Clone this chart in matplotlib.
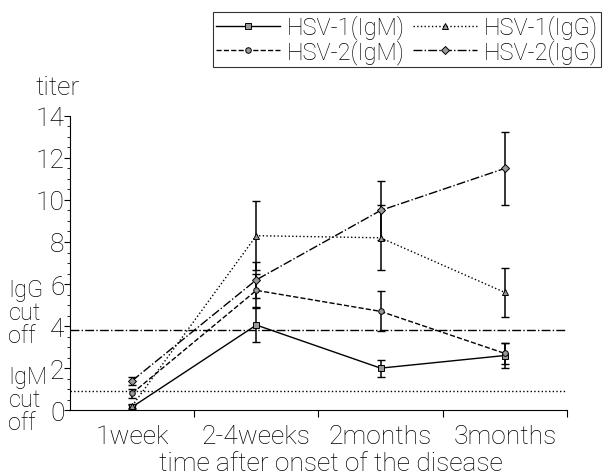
import matplotlib
matplotlib.use("Agg")
import matplotlib.pyplot as plt
from matplotlib.ticker import MultipleLocator, FixedLocator, NullFormatter, FixedFormatter

plt.rcParams['font.family'] = ['Roboto', 'DejaVu Sans']
plt.rcParams['font.weight'] = 'light'
plt.rcParams['axes.labelweight'] = 'light'

categories = ["1week", "2-4weeks", "2months", "3months"]
hsv1_igm = [0.15, 4.05, 2.0, 2.6]
hsv1_igm_err = [0.1, 0.8, 0.4, 0.6]
hsv1_igg = [0.2, 8.3, 8.2, 5.6]
hsv1_igg_err = [0.1, 1.65, 1.55, 1.15]
hsv2_igm = [0.8, 5.7, 4.7, 2.7]
hsv2_igm_err = [0.2, 0.8, 0.95, 0.5]
hsv2_igg = [1.4, 6.2, 9.5, 11.5]
hsv2_igg_err = [0.2, 0.85, 1.4, 1.75]
igg_cutoff = 3.8
igm_cutoff = 0.9

fig = plt.figure(figsize=(6.06, 4.77), dpi=100)
ax = fig.add_axes([0.1155, 0.138, 0.82, 0.617])

x = [0.5, 1.5, 2.5, 3.5]
series = [
    ("HSV-1(IgM)", hsv1_igm, hsv1_igm_err, '-', 's'),
    ("HSV-1(IgG)", hsv1_igg, hsv1_igg_err, ':', '^'),
    ("HSV-2(IgM)", hsv2_igm, hsv2_igm_err, '--', 'o'),
    ("HSV-2(IgG)", hsv2_igg, hsv2_igg_err, '-.', 'D'),
]
handles = []
for name, y, e, ls, mk in series:
    ax.errorbar(x, y, yerr=e, fmt='none', ecolor='black', elinewidth=1.1,
                capsize=3, capthick=1.0, zorder=3)
    h, = ax.plot(x, y, linestyle=ls, color='black', linewidth=1.0,
                 marker=mk, markersize=4, markerfacecolor='#999999',
                 markeredgecolor='black', markeredgewidth=0.7, label=name, zorder=4)
    handles.append(h)

ax.axhline(igg_cutoff, color='black', linestyle='-.', linewidth=1.0)
ax.axhline(igm_cutoff, color='black', linestyle=':', linewidth=1.0)

ax.set_xlim(0, 4)
ax.set_ylim(0, 14)
ax.spines['top'].set_visible(False)
ax.spines['right'].set_visible(False)
ax.xaxis.set_major_locator(FixedLocator([1, 2, 3, 4]))
ax.xaxis.set_major_formatter(NullFormatter())
ax.xaxis.set_minor_locator(FixedLocator(x))
ax.xaxis.set_minor_formatter(FixedFormatter(categories))
ax.tick_params(axis='x', which='minor', length=0, labelsize=19, pad=10)
ax.tick_params(axis='x', which='major', length=5, direction='out')
ax.yaxis.set_major_locator(MultipleLocator(2))
ax.yaxis.set_minor_locator(MultipleLocator(0.5))
ax.tick_params(axis='y', which='major', length=4, labelsize=19, pad=0)
ax.tick_params(axis='y', which='minor', length=2.5)
ax.set_xlabel("time after onset of the disease", fontsize=19)
ax.xaxis.set_label_coords(0.525, -0.14)

fig.text(0.095, 0.815, "titer", fontsize=19, ha='center', va='center')
fig.text(0.014, 0.342, "IgG\ncut\noff", fontsize=17, ha='left', va='center', linespacing=1.0)
fig.text(0.014, 0.161, "IgM\ncut\noff", fontsize=17, ha='left', va='center', linespacing=1.0)

order = [0, 2, 1, 3]
leg = fig.legend(handles=[handles[i] for i in order], loc='upper left',
                 bbox_to_anchor=(0.3515, 0.973),
                 ncol=2, fontsize=17, frameon=True, fancybox=False, handlelength=2.7,
                 columnspacing=0.35, handletextpad=0.3, borderpad=0.12, labelspacing=0.0,
                 borderaxespad=0)
leg.get_frame().set_edgecolor('black')
leg.get_frame().set_linewidth(0.8)

fig.savefig("out.png", dpi=100)
